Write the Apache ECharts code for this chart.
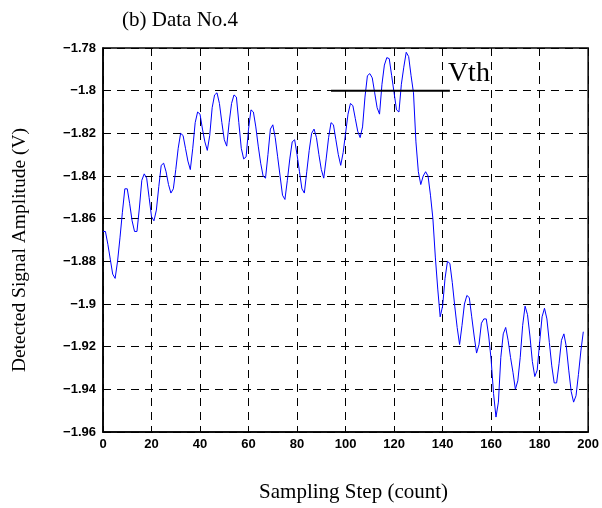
<!DOCTYPE html>
<html>
<head>
<meta charset="utf-8">
<script src="https://cdn.jsdelivr.net/npm/echarts@6/dist/echarts.min.js"></script>
<style>html,body{margin:0;padding:0;background:#fff;}#c{width:602px;height:508px;}</style>
</head>
<body>
<div id="c"></div>
<script>
const titleText = '(b) Data No.4';
const xName = 'Sampling Step (count)';
const yName = 'Detected Signal Amplitude (V)';
const xMin = 0, xMax = 200, xStep = 20;
const yMin = -1.96, yMax = -1.78, yStep = 0.02;
// Detected amplitude per sampling step (index = step)
const amplitude = [
-1.866,-1.866,-1.872,-1.879,-1.886,-1.888,-1.880,-1.869,-1.857,-1.846,
-1.846,-1.853,-1.861,-1.866,-1.866,-1.855,-1.842,-1.839,-1.841,-1.850,
-1.859,-1.861,-1.856,-1.845,-1.835,-1.834,-1.838,-1.844,-1.848,-1.846,
-1.837,-1.827,-1.820,-1.821,-1.827,-1.833,-1.837,-1.827,-1.815,-1.810,
-1.811,-1.818,-1.824,-1.828,-1.821,-1.808,-1.802,-1.801,-1.806,-1.815,
-1.823,-1.826,-1.815,-1.806,-1.802,-1.803,-1.815,-1.827,-1.832,-1.831,
-1.818,-1.809,-1.810,-1.817,-1.826,-1.834,-1.840,-1.841,-1.830,-1.818,
-1.816,-1.822,-1.831,-1.840,-1.849,-1.851,-1.842,-1.832,-1.824,-1.823,
-1.830,-1.838,-1.846,-1.848,-1.838,-1.828,-1.820,-1.818,-1.822,-1.830,
-1.837,-1.841,-1.832,-1.822,-1.815,-1.816,-1.823,-1.830,-1.835,-1.829,
-1.820,-1.811,-1.806,-1.807,-1.813,-1.819,-1.822,-1.817,-1.803,-1.793,
-1.792,-1.794,-1.801,-1.808,-1.811,-1.797,-1.788,-1.7845,-1.785,-1.793,
-1.801,-1.809,-1.810,-1.797,-1.789,-1.782,-1.784,-1.793,-1.801,-1.824,
-1.838,-1.844,-1.840,-1.838,-1.840,-1.849,-1.860,-1.878,-1.893,-1.906,
-1.901,-1.888,-1.880,-1.881,-1.890,-1.901,-1.911,-1.919,-1.910,-1.900,
-1.896,-1.897,-1.906,-1.915,-1.923,-1.919,-1.909,-1.907,-1.907,-1.915,
-1.926,-1.942,-1.953,-1.946,-1.925,-1.914,-1.911,-1.917,-1.925,-1.932,
-1.940,-1.936,-1.925,-1.910,-1.901,-1.905,-1.915,-1.927,-1.934,-1.931,
-1.918,-1.906,-1.902,-1.907,-1.918,-1.929,-1.937,-1.937,-1.928,-1.917,
-1.914,-1.920,-1.931,-1.941,-1.946,-1.943,-1.933,-1.922,-1.913
];
const vthLabel = 'Vth';
const vthValue = -1.80;
const vthFrom = 94, vthTo = 143;

const chart = echarts.init(document.getElementById('c'), null, {renderer: 'canvas'});
const serif = '"Liberation Serif", "Times New Roman", serif';
const sans = '"Liberation Sans", Arial, sans-serif';
chart.setOption({
  animation: false,
  backgroundColor: '#fff',
  title: {
    text: titleText, left: 117, top: 5,
    textStyle: {fontFamily: serif, fontSize: 21, fontWeight: 'normal', color: '#000'}
  },
  grid: {left: 103, right: 10, top: 48, bottom: 76, show: true, borderColor: '#000', borderWidth: 1.5},
  xAxis: {
    type: 'value', min: xMin, max: xMax, interval: xStep,
    name: xName, nameLocation: 'middle', nameGap: 50,
    nameTextStyle: {fontFamily: serif, fontSize: 21, color: '#000', padding: [0, 0, 0, 16]},
    axisLine: {show: true, lineStyle: {color: '#000', width: 1.5}},
    axisTick: {show: false},
    axisLabel: {fontFamily: sans, fontSize: 13, fontWeight: 'bold', color: '#000', margin: 6},
    splitLine: {show: true, lineStyle: {color: '#000', type: [8, 6], width: 1}}
  },
  yAxis: {
    type: 'value', min: yMin, max: yMax, interval: yStep,
    name: yName, nameLocation: 'middle', nameGap: 73,
    nameTextStyle: {fontFamily: serif, fontSize: 19.5, color: '#000', padding: [0, 20, 0, 0]},
    axisLine: {show: true, lineStyle: {color: '#000', width: 1.5}},
    axisTick: {show: false},
    axisLabel: {fontFamily: sans, fontSize: 13, fontWeight: 'bold', color: '#000', margin: 7,
      formatter: v => String(Math.round(v * 100) / 100).replace('-', '\u2212')},
    splitLine: {show: true, lineStyle: {color: '#000', type: [8, 6], width: 1}}
  },
  series: [
    {
      type: 'line', data: amplitude.map((v, i) => [i, v]),
      showSymbol: false, symbol: 'none',
      lineStyle: {color: '#0000ff', width: 1},
      z: 3
    },
    {
      type: 'line', data: [[vthFrom, vthValue], [vthTo, vthValue]],
      showSymbol: false, symbol: 'none',
      lineStyle: {color: '#000', width: 2},
      endLabel: {show: true, formatter: vthLabel, fontFamily: serif, fontSize: 28, color: '#000',
        distance: -2, offset: [0, -17]},
      z: 4
    }
  ]
});
</script>
</body>
</html>
